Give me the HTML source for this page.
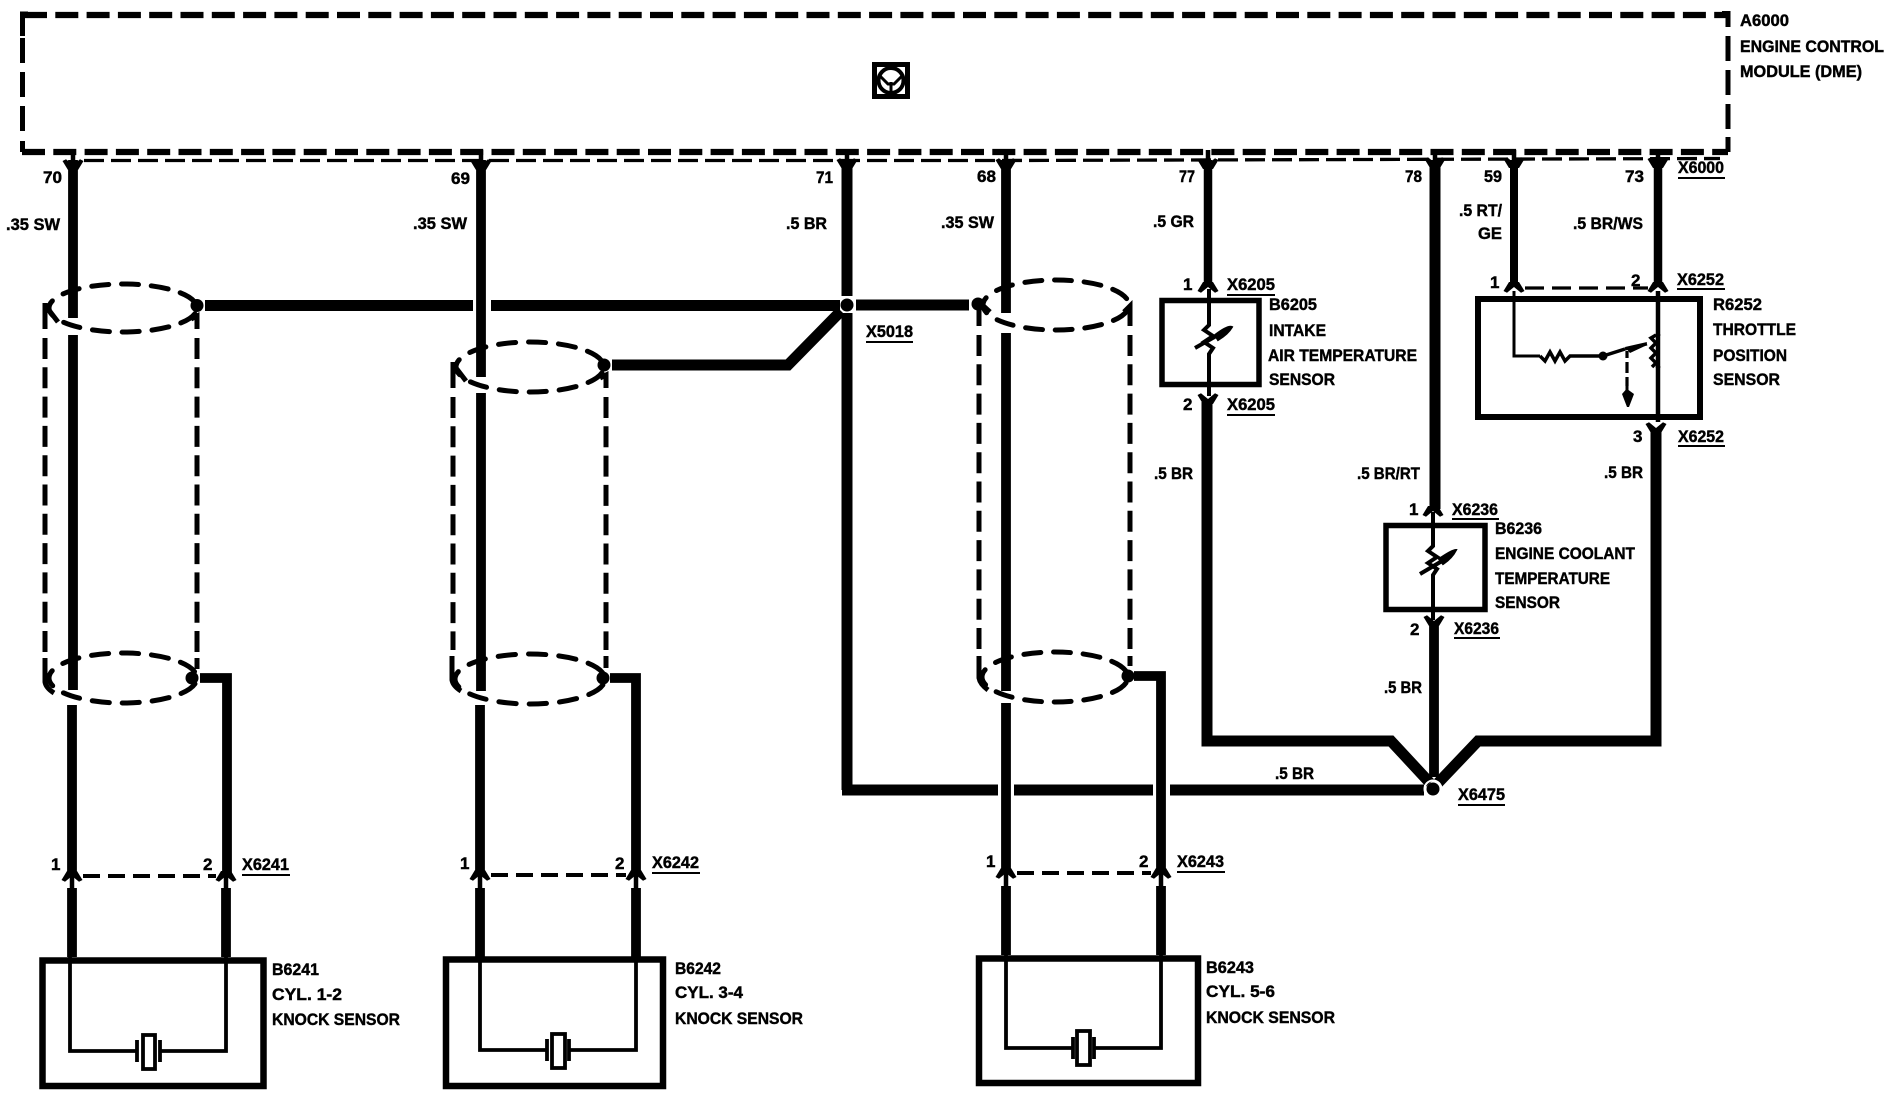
<!DOCTYPE html>
<html><head><meta charset="utf-8"><style>
html,body{margin:0;padding:0;background:#fff}
svg{display:block}
text{font-family:"Liberation Sans",sans-serif;font-weight:bold;font-size:17px;fill:#000;stroke:#000;stroke-width:.45}
.w{fill:none;stroke:#000;stroke-linejoin:miter}
</style></head><body>
<svg width="1890" height="1104" viewBox="0 0 1890 1104" xmlns="http://www.w3.org/2000/svg">
<defs>
<path id="u" d="M-5 -9 L-10.500 0 L-7 1.800 L0 -4 L7 1.800 L10.500 0 L5 -9 Z"/>
<path id="d" d="M-5 9 L-10.500 0 L-7 -1.800 L0 4 L7 -1.800 L10.500 0 L5 9 Z"/>
</defs>
<rect width="1890" height="1104" fill="#fff"/>
<!-- module -->
<path class="w" stroke-width="6.300" stroke-dasharray="23 8.300" d="M24 15 H1726"/>
<path class="w" stroke-width="5" d="M22.500 36 V14 H28 M1722 13.500 H1728 V27"/>
<path class="w" stroke-width="5" stroke-dasharray="25 9" d="M22.500 38 V132"/>
<path class="w" stroke-width="5" stroke-dasharray="25 9" d="M1728 36 V130"/>
<path class="w" stroke-width="5" d="M22.500 141 V152 M1728 137 V152"/>
<path class="w" stroke-width="6.300" stroke-dasharray="23 8.300" d="M22 152 H1728"/>
<path class="w" stroke-width="3.300" stroke-dasharray="20 7" d="M84 160.500 H1000 L1720 158.500"/>
<!-- icon -->
<rect x="874.500" y="64.500" width="33" height="32" fill="none" stroke="#000" stroke-width="5"/>
<circle cx="891" cy="80.500" r="12.500" fill="none" stroke="#000" stroke-width="4"/>
<path class="w" stroke-width="3" d="M891 82 V92 M880 76 L888 84 H894 L902 76"/>
<!-- main wires -->
<g class="w" stroke-width="9.800">
<path d="M73 160 V318 M73 335 V690 M72 705 V874 M72 888 V957"/>
<path d="M481 160 V377 M481 393 V691 M480 705 V873 M480 888 V957"/>
<path d="M1006 160 V313 M1006 333 V691 M1006 703 V871 M1006 886 V955"/>
<path d="M1208 160 V284" stroke-width="8.500"/>
<path d="M1514 160 V284" stroke-width="8"/>
<path d="M1658 160 V284" stroke-width="8.500"/>
<path d="M227 874 V678 H200"/>
<path d="M226 888 V957"/>
<path d="M636 873 V678 H610"/>
<path d="M636 888 V957"/>
<path d="M1161 871 V676 H1134"/>
<path d="M1161 886 V955"/>
<path d="M1434 622 V777"/>
</g>
<!-- stems -->
<g class="w" stroke-width="4.500">
<path d="M73 150 V162 M481 150 V162 M847 150 V162 M1006 150 V162 M1208 150 V162 M1435 150 V162 M1514 150 V162 M1658 150 V162"/>
<path d="M72 874 V889 M226 874 V889 M480 873 V889 M636 873 V889 M1006 871 V887 M1161 871 V887"/>
</g>
<g class="w" stroke-width="11">
<path d="M847 160 V296"/>
<path d="M847 313 V790"/>
<path d="M1435 160 V509"/>
<path d="M205 305.500 H473 M491 305.500 H840 M856 305 H969"/>
<path d="M612 365 H788 L841 311"/>
<path d="M842 790 H998 M1014 790 H1153 M1170 790 H1424"/>
<path d="M1207 402 V741 H1391 L1430 783"/>
<path d="M1656 430 V741 H1478 L1438 783"/>
</g>
<!-- junction dots -->
<circle cx="847" cy="305" r="6.500" fill="#000"/>
<circle cx="1433" cy="789" r="6.500" fill="#000"/>
<circle cx="1433" cy="789" r="8.500" fill="none" stroke="#fff" stroke-width="2"/>
<circle cx="197" cy="305.500" r="6.500"/>
<circle cx="604" cy="365" r="6.500"/>
<circle cx="978" cy="304" r="6.500"/>
<circle cx="192" cy="678" r="6.500"/>
<circle cx="603" cy="678" r="6.500"/>
<circle cx="1128" cy="676" r="6.500"/>
<!-- shields: ellipses -->
<g class="w" stroke-width="5" stroke-linecap="round" stroke-dasharray="5.700 4.300" stroke-dashoffset="-2.100">
<ellipse pathLength="110" cx="123" cy="308" rx="74" ry="24"/>
<ellipse pathLength="110" cx="123" cy="678" rx="74" ry="25"/>
<ellipse pathLength="110" cx="530" cy="367" rx="74" ry="25"/>
<ellipse pathLength="110" cx="530" cy="679" rx="75" ry="25"/>
<ellipse pathLength="110" cx="1056" cy="305" rx="73" ry="25"/>
<ellipse pathLength="110" cx="1055" cy="677" rx="73" ry="25"/>
</g>
<!-- shields: sides -->
<g class="w" stroke-width="5">
<path d="M45 303 V329 M45 305 L58 322"/>
<path d="M197 329 V316 L191 319"/>
<path d="M45 658 V682 Q46 688 54 693 M197 658 V669"/>
<path d="M453 362 V388 M453 364 L466 381"/>
<path d="M606 388 V375 L600 378"/>
<path d="M452 656 V680 Q453 686 461 691 M606 656 V668"/>
<path d="M979 300 V326 M979 302 L990 312"/>
<path d="M1130 326 V306 L1124 312"/>
<path d="M979 656 V678 Q980 684 988 690 M1130 656 V666"/>
</g>
<g class="w" stroke-width="5" stroke-dasharray="21 8.300">
<path d="M45 338 V652"/>
<path d="M197 338 V652"/>
<path d="M453 397 V650"/>
<path d="M606 397 V650"/>
<path d="M979 335 V650"/>
<path d="M1130 335 V650"/>
</g>
<!-- knock sensor boxes -->
<g class="w" stroke-width="6.500">
<rect x="42.500" y="960.500" width="221" height="125.500"/>
<rect x="446" y="959.500" width="217" height="126.500"/>
<rect x="979" y="958.500" width="219" height="124.500"/>
</g>
<g class="w" stroke-width="3.800">
<path d="M70 957 V1051 H137 M159 1051 H226 V957"/>
<path d="M480 957 V1050 H547 M569 1050 H636 V957"/>
<path d="M1006 955 V1048 H1073 M1094 1048 H1161 V955"/>
<rect x="143" y="1035" width="12" height="34"/>
<rect x="552" y="1034" width="13" height="34"/>
<rect x="1077" y="1031" width="13" height="34"/>
<path d="M137 1040 V1062 M160 1040 V1062 M547 1039 V1061 M569 1039 V1061 M1073 1037 V1059 M1094 1037 V1059"/>
</g>
<!-- connector dashes -->
<g class="w" stroke-width="4" stroke-dasharray="17 8">
<path d="M83 876 H216"/>
<path d="M491 875 H626"/>
<path d="M1017 873 H1151"/>
<path d="M1525 288 H1648" stroke-width="3.200" stroke-dasharray="19 8"/>
</g>
<!-- chevrons -->
<use href="#u" x="72" y="880"/><use href="#u" x="226" y="880"/>
<use href="#u" x="480" y="879"/><use href="#u" x="636" y="879"/>
<use href="#u" x="1006" y="877"/><use href="#u" x="1161" y="877"/>
<use href="#u" x="1208" y="291"/><use href="#u" x="1514" y="291"/><use href="#u" x="1658" y="291"/>
<use href="#u" x="1433" y="515"/>
<use href="#d" x="1208" y="395"/><use href="#d" x="1656" y="424"/><use href="#d" x="1434" y="617"/>
<use href="#d" x="73" y="161"/><use href="#d" x="481" y="161"/><use href="#d" x="847" y="160"/><use href="#d" x="1006" y="160"/><use href="#d" x="1208" y="160"/><use href="#d" x="1435" y="159"/><use href="#d" x="1514" y="159"/><use href="#d" x="1658" y="159"/>
<!-- temperature sensors and throttle -->
<g class="w" stroke-width="5.500">
<rect x="1162" y="300.500" width="97" height="84"/>
<rect x="1386" y="525.500" width="99" height="84"/>
<rect x="1478" y="299" width="222" height="118" stroke-width="6"/>
</g>
<g class="w" stroke-width="4">
<path d="M1209 289 V325 L1204 330 L1213 336 L1204 342 L1213 348 L1209 354 V396"/>
<path d="M1195 348 L1218 335" stroke-width="4"/>
<path d="M1215 335 Q1228 325 1232 327 Q1228 334 1218 340 Z" fill="#000" stroke-width="2"/>
<path d="M1433 512 V546 L1428 551 L1437 557 L1428 563 L1437 569 L1433 575 V620"/>
<path d="M1420 574 L1442 561" stroke-width="4"/>
<path d="M1439 559 Q1452 550 1456 550 Q1452 558 1443 564 Z" fill="#000" stroke-width="2"/>
<path d="M1514 291 V356 H1540" stroke-width="3"/>
<path d="M1540 356 L1545 361 L1550 352 L1555 361 L1560 352 L1565 361 L1570 356 H1603 L1625 349" stroke-width="3.500"/>
<path d="M1658 291 V336 M1658 366 V422" stroke-width="4.500"/>
<path d="M1658 334 V368" stroke-width="4.500"/>
<path d="M1656 335 L1651 338 L1656 343 L1651 348 L1656 353 L1651 358 L1656 363 L1652 367" stroke-width="3.500"/>
<path d="M1625 349 L1647 344" stroke-width="3"/>
<path d="M1627 351 V358 M1627 362 V373 M1627 377 V386" stroke-width="3.200"/>
</g>
<circle cx="1603" cy="356" r="4.500"/>
<path d="M1625 347 L1647 342 L1645 346 L1630 353 Z"/>
<path d="M1625.500 385 L1628.500 385 V390 L1634 394 L1629 407 H1627 L1622 394 L1625.500 390 Z"/>
<!-- underlines -->
<g class="w" stroke-width="2">
<path d="M866 342 H913 M1678 178 H1725 M1227 295 H1275 M1227 415 H1275 M1677 289 H1725 M1678 446 H1725 M1452 519 H1499 M1454 638 H1500 M1458 805 H1505 M1177 872 H1225 M242 875 H290 M652 873 H700"/>
</g>
<!-- labels -->
<text x="1740" y="26" textLength="49" lengthAdjust="spacingAndGlyphs">A6000</text>
<text x="1740" y="52" textLength="144" lengthAdjust="spacingAndGlyphs">ENGINE CONTROL</text>
<text x="1740" y="77" textLength="122" lengthAdjust="spacingAndGlyphs">MODULE (DME)</text>
<text x="43" y="183" textLength="19" lengthAdjust="spacingAndGlyphs">70</text>
<text x="451" y="184" textLength="19" lengthAdjust="spacingAndGlyphs">69</text>
<text x="816" y="183" textLength="17" lengthAdjust="spacingAndGlyphs">71</text>
<text x="977" y="182" textLength="19" lengthAdjust="spacingAndGlyphs">68</text>
<text x="1179" y="182" textLength="16" lengthAdjust="spacingAndGlyphs">77</text>
<text x="1405" y="182" textLength="17" lengthAdjust="spacingAndGlyphs">78</text>
<text x="1484" y="182" textLength="18" lengthAdjust="spacingAndGlyphs">59</text>
<text x="1625" y="182" textLength="19" lengthAdjust="spacingAndGlyphs">73</text>
<text x="1678" y="173" textLength="46" lengthAdjust="spacingAndGlyphs">X6000</text>
<text x="6" y="230" textLength="54" lengthAdjust="spacingAndGlyphs">.35 SW</text>
<text x="413" y="229" textLength="54" lengthAdjust="spacingAndGlyphs">.35 SW</text>
<text x="786" y="229" textLength="41" lengthAdjust="spacingAndGlyphs">.5 BR</text>
<text x="941" y="228" textLength="53" lengthAdjust="spacingAndGlyphs">.35 SW</text>
<text x="1153" y="227" textLength="41" lengthAdjust="spacingAndGlyphs">.5 GR</text>
<text x="1459" y="216" textLength="43" lengthAdjust="spacingAndGlyphs">.5 RT/</text>
<text x="1478" y="239" textLength="24" lengthAdjust="spacingAndGlyphs">GE</text>
<text x="1573" y="229" textLength="70" lengthAdjust="spacingAndGlyphs">.5 BR/WS</text>
<text x="866" y="337" textLength="47" lengthAdjust="spacingAndGlyphs">X5018</text>
<text x="1183" y="290">1</text>
<text x="1227" y="290" textLength="48" lengthAdjust="spacingAndGlyphs">X6205</text>
<text x="1269" y="310" textLength="48" lengthAdjust="spacingAndGlyphs">B6205</text>
<text x="1269" y="336" textLength="57" lengthAdjust="spacingAndGlyphs">INTAKE</text>
<text x="1268" y="361" textLength="149" lengthAdjust="spacingAndGlyphs">AIR TEMPERATURE</text>
<text x="1269" y="385" textLength="66" lengthAdjust="spacingAndGlyphs">SENSOR</text>
<text x="1183" y="410">2</text>
<text x="1227" y="410" textLength="48" lengthAdjust="spacingAndGlyphs">X6205</text>
<text x="1490" y="288">1</text>
<text x="1631" y="286">2</text>
<text x="1677" y="285" textLength="47" lengthAdjust="spacingAndGlyphs">X6252</text>
<text x="1713" y="310" textLength="49" lengthAdjust="spacingAndGlyphs">R6252</text>
<text x="1713" y="335" textLength="83" lengthAdjust="spacingAndGlyphs">THROTTLE</text>
<text x="1713" y="361" textLength="74" lengthAdjust="spacingAndGlyphs">POSITION</text>
<text x="1713" y="385" textLength="67" lengthAdjust="spacingAndGlyphs">SENSOR</text>
<text x="1633" y="442">3</text>
<text x="1678" y="442" textLength="46" lengthAdjust="spacingAndGlyphs">X6252</text>
<text x="1154" y="479" textLength="39" lengthAdjust="spacingAndGlyphs">.5 BR</text>
<text x="1357" y="479" textLength="63" lengthAdjust="spacingAndGlyphs">.5 BR/RT</text>
<text x="1604" y="478" textLength="39" lengthAdjust="spacingAndGlyphs">.5 BR</text>
<text x="1409" y="515">1</text>
<text x="1452" y="515" textLength="46" lengthAdjust="spacingAndGlyphs">X6236</text>
<text x="1495" y="534" textLength="47" lengthAdjust="spacingAndGlyphs">B6236</text>
<text x="1495" y="559" textLength="140" lengthAdjust="spacingAndGlyphs">ENGINE COOLANT</text>
<text x="1495" y="584" textLength="115" lengthAdjust="spacingAndGlyphs">TEMPERATURE</text>
<text x="1495" y="608" textLength="65" lengthAdjust="spacingAndGlyphs">SENSOR</text>
<text x="1410" y="635">2</text>
<text x="1454" y="634" textLength="45" lengthAdjust="spacingAndGlyphs">X6236</text>
<text x="1384" y="693" textLength="38" lengthAdjust="spacingAndGlyphs">.5 BR</text>
<text x="1275" y="779" textLength="39" lengthAdjust="spacingAndGlyphs">.5 BR</text>
<text x="1458" y="800" textLength="47" lengthAdjust="spacingAndGlyphs">X6475</text>
<text x="51" y="870">1</text>
<text x="203" y="870">2</text>
<text x="242" y="870" textLength="47" lengthAdjust="spacingAndGlyphs">X6241</text>
<text x="460" y="869">1</text>
<text x="615" y="869">2</text>
<text x="652" y="868" textLength="47" lengthAdjust="spacingAndGlyphs">X6242</text>
<text x="986" y="867">1</text>
<text x="1139" y="867">2</text>
<text x="1177" y="867" textLength="47" lengthAdjust="spacingAndGlyphs">X6243</text>
<text x="272" y="975" textLength="47" lengthAdjust="spacingAndGlyphs">B6241</text>
<text x="272" y="1000" textLength="70" lengthAdjust="spacingAndGlyphs">CYL. 1-2</text>
<text x="272" y="1025" textLength="128" lengthAdjust="spacingAndGlyphs">KNOCK SENSOR</text>
<text x="675" y="974" textLength="46" lengthAdjust="spacingAndGlyphs">B6242</text>
<text x="675" y="998" textLength="68" lengthAdjust="spacingAndGlyphs">CYL. 3-4</text>
<text x="675" y="1024" textLength="128" lengthAdjust="spacingAndGlyphs">KNOCK SENSOR</text>
<text x="1206" y="973" textLength="48" lengthAdjust="spacingAndGlyphs">B6243</text>
<text x="1206" y="997" textLength="69" lengthAdjust="spacingAndGlyphs">CYL. 5-6</text>
<text x="1206" y="1023" textLength="129" lengthAdjust="spacingAndGlyphs">KNOCK SENSOR</text>
</svg>
</body></html>
